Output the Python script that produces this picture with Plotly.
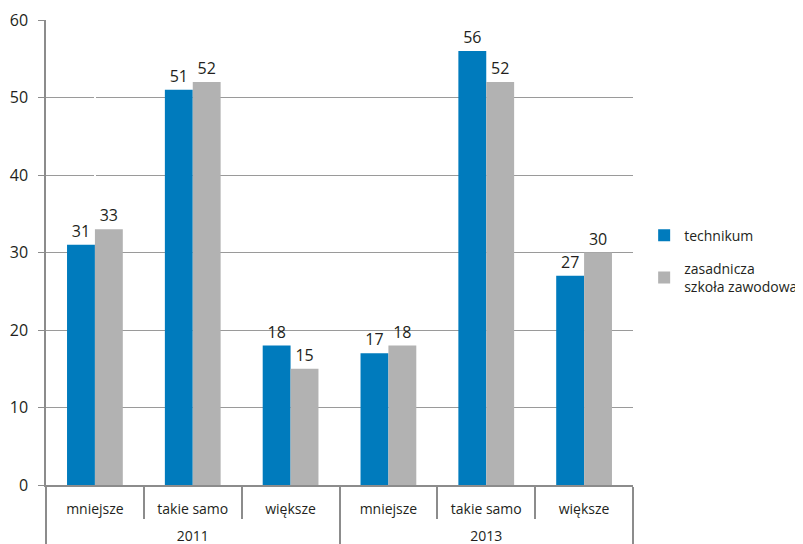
import plotly.graph_objects as go

years = ["2011", "2013"]
cats = ["mniejsze", "takie samo", "większe", "mniejsze", "takie samo", "większe"]
technikum = [31, 51, 18, 17, 56, 27]
zasadnicza = [33, 52, 15, 18, 52, 30]
positions = list(range(len(cats)))
year_centers = [1, 4]
group_edges = [-0.5, 2.5, 5.5]
cat_edges = [0.5, 1.5, 3.5, 4.5]

font_family = "Open Sans, Noto Sans, sans-serif"
axis_col = "#8C8C8C"
ydom0 = 59 / 524

fig = go.Figure()
fig.add_trace(go.Bar(
    x=positions, y=technikum, name="technikum", legendgroup="a",
    marker_color="#007BBD", marker_line_width=0, text=technikum, textposition="outside",
    textfont=dict(size=16, color="#231F20"), cliponaxis=False,
))
fig.add_trace(go.Bar(
    x=positions, y=zasadnicza, name="zasadnicza<br>szkoła zawodowa", legendgroup="b",
    marker_color="#B2B2B2", marker_line_width=0, text=zasadnicza, textposition="outside",
    textfont=dict(size=16, color="#231F20"), cliponaxis=False,
))

fig.update_layout(
    width=795, height=536,
    margin=dict(l=38, r=170, t=12, b=0, autoexpand=False),
    paper_bgcolor="white", plot_bgcolor="white",
    barmode="group", bargap=0.43, bargroupgap=0,
    font=dict(family=font_family, size=14, color="#231F20"),
    legend=dict(x=1.019, y=0.54, xanchor="left", yanchor="middle",
                font=dict(size=14), tracegroupgap=12, itemwidth=30),
    showlegend=True,
    xaxis=dict(
        automargin=False, range=[-0.5, 5.5], anchor="y",
        showline=True, linecolor=axis_col, linewidth=1.5, showgrid=False,
        tickmode="array", tickvals=group_edges, ticktext=["", "", ""],
        ticks="outside", ticklen=60, tickcolor=axis_col, tickwidth=1.5,
        showticklabels=False,
        minor=dict(tickvals=cat_edges, ticks="outside", ticklen=32,
                   tickcolor=axis_col, tickwidth=1.5, showgrid=False),
    ),
    xaxis3=dict(
        automargin=False, range=[-0.5, 5.5], overlaying="x", anchor="free",
        position=ydom0, side="bottom", showline=False, showgrid=False,
        tickmode="array", tickvals=positions, ticktext=cats, ticks="",
        tickfont=dict(size=14), ticklabelstandoff=14,
    ),
    xaxis2=dict(
        automargin=False, range=[-0.5, 5.5], overlaying="x", anchor="free",
        position=ydom0, side="bottom", showline=False, showgrid=False,
        tickmode="array", tickvals=year_centers, ticktext=years, ticks="",
        tickfont=dict(size=14), ticklabelstandoff=41,
    ),
    yaxis=dict(
        automargin=False, domain=[ydom0, 1], anchor="x",
        range=[0, 60], dtick=10, showgrid=True, gridcolor="#9A9A9A", gridwidth=1,
        showline=True, linecolor=axis_col, linewidth=1.5,
        ticks="outside", ticklen=6, tickcolor=axis_col,
        tickfont=dict(size=16), zeroline=False, ticklabelstandoff=7,
    ),
)
# invisible traces to activate the label axes
fig.add_trace(go.Scatter(x=positions, y=[None]*6, xaxis="x3", showlegend=False, hoverinfo="skip"))
fig.add_trace(go.Scatter(x=year_centers, y=[None]*2, xaxis="x2", showlegend=False, hoverinfo="skip"))
fig.write_html("out.html")
